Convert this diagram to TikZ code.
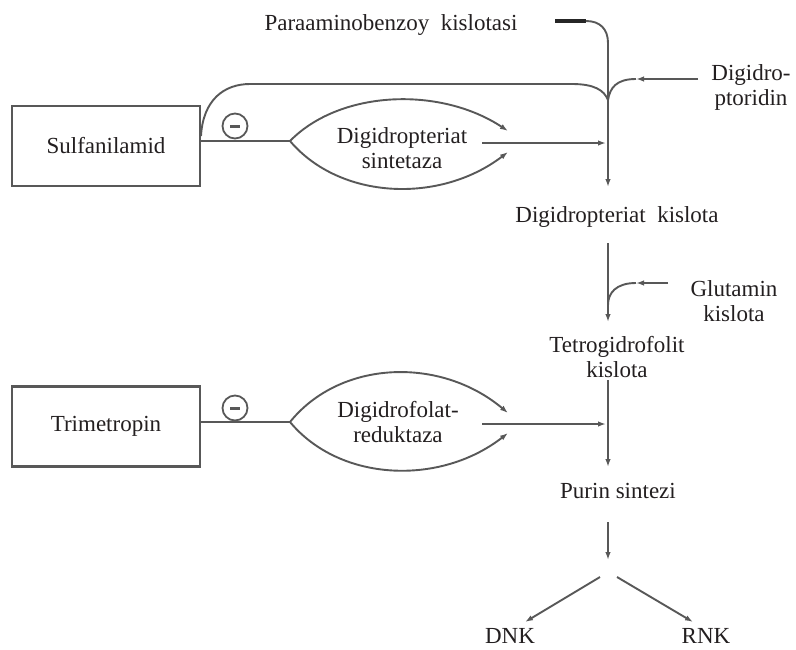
\documentclass[tikz,border=0pt]{standalone}
\usepackage{fontspec}
\setmainfont{Liberation Serif}
\usetikzlibrary{arrows.meta}
\definecolor{ink}{RGB}{88,88,88}
\definecolor{txt}{RGB}{35,31,32}
\begin{document}
\begin{tikzpicture}[x=1pt,y=-1pt,
  conn/.style={draw=ink,line width=1.9pt},
  arr/.style={conn,-{Latex[length=8pt,width=5.5pt]}},
  lbl/.style={text=txt,font=\fontsize{23}{25}\selectfont,inner sep=0pt,align=center},
  drug/.style={lbl,draw=ink,line width=2.6pt,minimum width=188pt,minimum height=80pt},
  minus/.style={draw=ink,line width=1.8pt,circle,minimum size=25pt,inner sep=0pt},
]
\useasboundingbox (0,0) rectangle (796,649);
\fill[white] (0,0) rectangle (796,649);

% drug boxes and inhibition marks
\node[drug] (sulf) at (106,146) {Sulfanilamid};
\node[drug] (trim) at (106,426.5) {Trimetropin};
\node[minus] (m1) at (235,126) {\color{ink}\rule[-1.5pt]{10pt}{3pt}};
\node[minus] (m2) at (235,408) {\color{ink}\rule[-1.5pt]{10pt}{3pt}};

% labels
\node[lbl,anchor=base] (paba) at (391,30) {Paraaminobenzoy\hspace{0.5em}kislotasi};
\node[lbl] (dpt) at (751,87) {Digidro-\\ptoridin};
\node[lbl] (enz1) at (402,148) {Digidropteriat\\sintetaza};
\node[lbl,anchor=base] (dpk) at (617,222) {Digidropteriat\hspace{0.5em}kislota};
\node[lbl] (glu) at (734,301) {Glutamin\\kislota};
\node[lbl] (thf) at (617,357) {Tetrogidrofolit\\kislota};
\node[lbl] (enz2) at (398,422) {Digidrofolat-\\reduktaza};
\node[lbl,anchor=base] (pur) at (618,498) {Purin sintezi};
\node[lbl,anchor=base] (dnk) at (510,643) {DNK};
\node[lbl,anchor=base] (rnk) at (706,643) {RNK};

% junction and end points
\coordinate (pabaTail) at (555,21);
\coordinate (pabaBend) at (586,21);
\coordinate (j1) at (608,100);
\coordinate (dpkIn) at (608,187);
\coordinate (arcFrom) at (201,136);
\coordinate (dptFrom) at (698,79);
\coordinate (dptTip) at (636,79);
\coordinate (s1) at (290,141);
\coordinate (s1up) at (508,131);
\coordinate (s1dn) at (508,152);
\coordinate (s1mid) at (482,143);
\coordinate (s1hit) at (606,143);
\coordinate (dpkOut) at (608,243);
\coordinate (thfIn) at (608,322);
\coordinate (gluFrom) at (668,283);
\coordinate (gluTip) at (636,283);
\coordinate (j2) at (608,305);
\coordinate (thfOut) at (608,380);
\coordinate (purIn) at (608,467);
\coordinate (t1) at (290,422);
\coordinate (t1up) at (508,413);
\coordinate (t1dn) at (508,433);
\coordinate (t1mid) at (482,424);
\coordinate (t1hit) at (606,424);
\coordinate (purOut) at (608,522);
\coordinate (split) at (608,560);
\coordinate (dnkFrom) at (600,577);
\coordinate (dnkTip) at (525,622);
\coordinate (rnkFrom) at (617,577);
\coordinate (rnkTip) at (693,622);

% upper pathway
\draw[draw=black!85,line width=4pt] (pabaTail) -- (pabaBend);
\draw[arr] (pabaBend) .. controls +(14,0) and +(0,-14) .. ++(22,22) -- (j1) -- (dpkIn);
\draw[conn] (arcFrom) .. controls +(2,-36) and +(-26,0) .. (250,84) -- (572,84)
  .. controls +(22,0) and +(-4,-10) .. (j1);
\draw[arr] (dptFrom) -- (dptTip);
\draw[conn] (dptTip) .. controls +(-20,0) and +(2,-12) .. (j1);

\draw[conn] (sulf.east |- s1) -- (s1);
\draw[arr] (s1) .. controls (340,90) and (440,86) .. (s1up);
\draw[arr] (s1) .. controls (340,200) and (440,204) .. (s1dn);
\draw[arr] (s1mid) -- (s1hit);

\draw[arr] (dpkOut) -- (thfIn);
\draw[arr] (gluFrom) -- (gluTip);
\draw[conn] (gluTip) .. controls +(-20,0) and +(0,-12) .. (j2);

% lower pathway
\draw[conn] (trim.east |- t1) -- (t1);
\draw[arr] (t1) .. controls (340,360) and (440,356) .. (t1up);
\draw[arr] (t1) .. controls (340,482) and (440,486) .. (t1dn);
\draw[arr] (t1mid) -- (t1hit);
\draw[arr] (thfOut) -- (purIn);
\draw[arr] (purOut) -- (split);
\draw[arr] (dnkFrom) -- (dnkTip);
\draw[arr] (rnkFrom) -- (rnkTip);
\end{tikzpicture}
\end{document}
